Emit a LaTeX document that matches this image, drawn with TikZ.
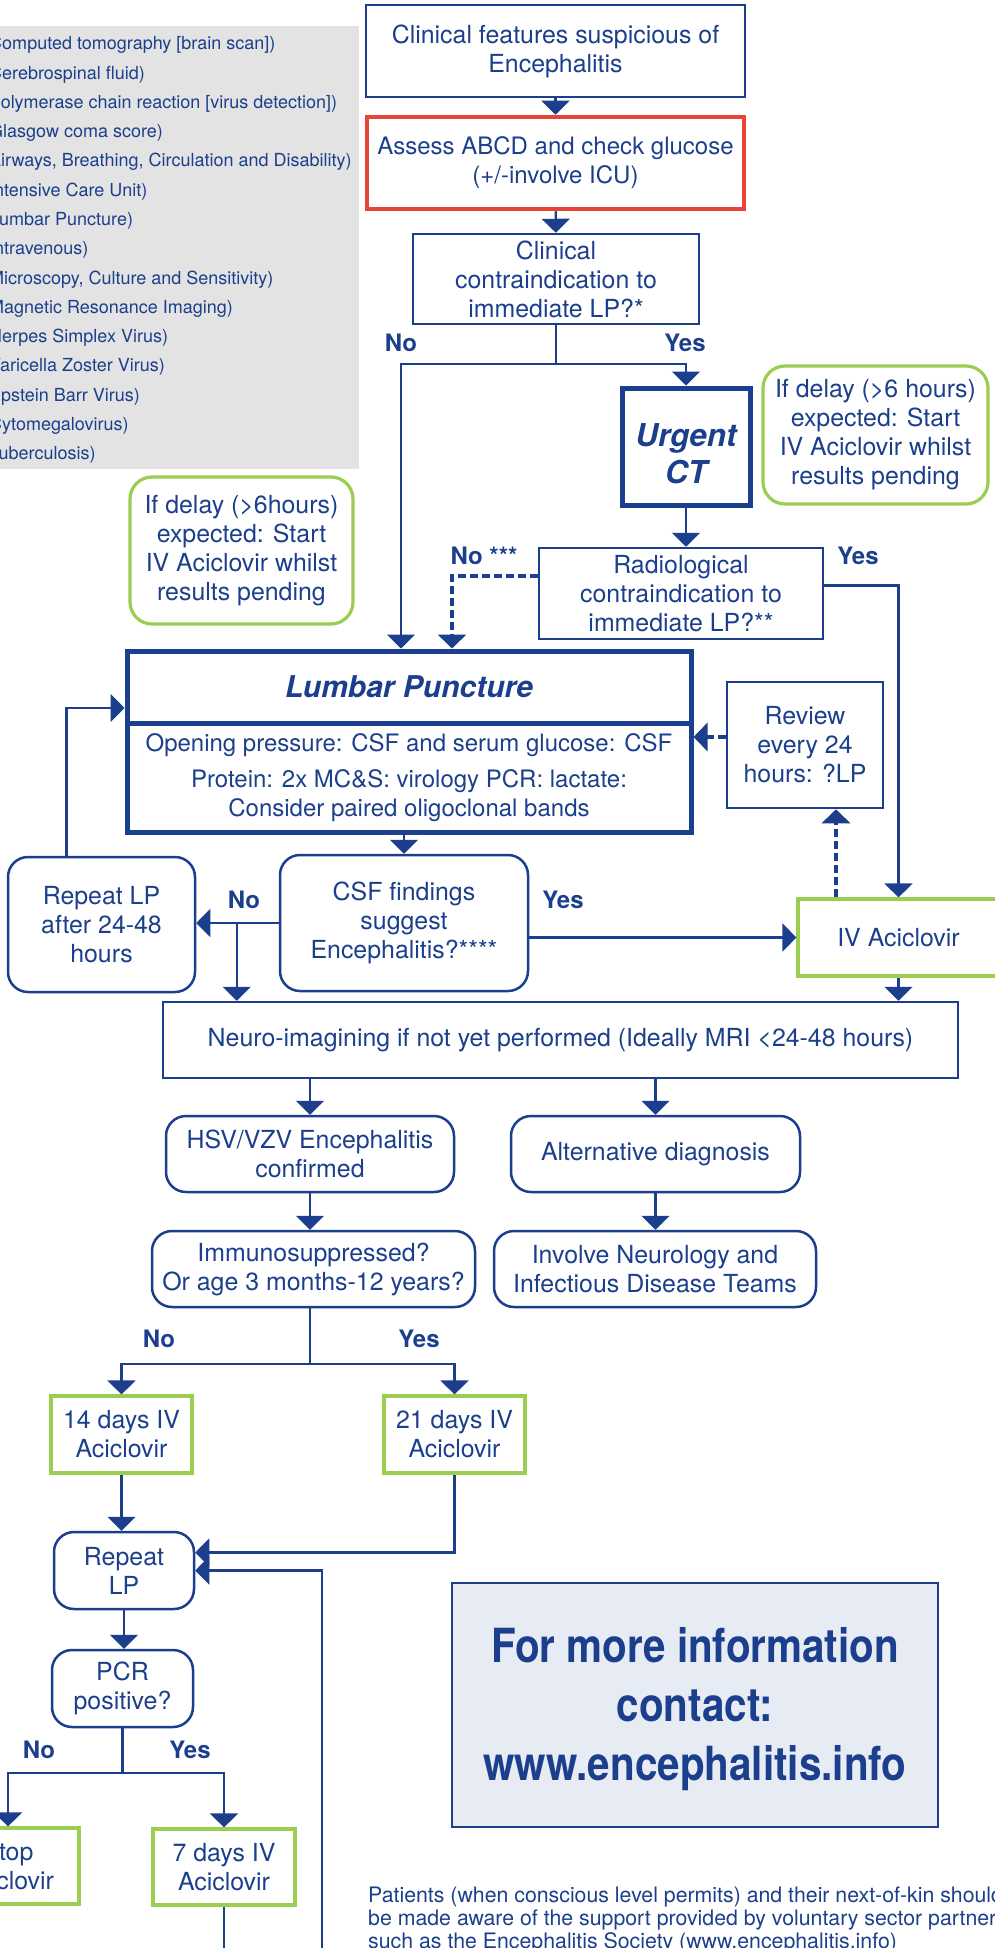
\documentclass[tikz,border=0pt]{standalone}
\usepackage{fontspec}
\setmainfont{TeX Gyre Heros}
\newfontfamily\condfont[FakeStretch=0.86]{TeX Gyre Heros}
\usepackage{xcolor}
\usepackage{tikz}
\usetikzlibrary{arrows.meta,calc}

\definecolor{navy}{RGB}{27,63,140}
\definecolor{ivgreen}{RGB}{155,205,80}
\definecolor{alertred}{RGB}{232,68,56}
\definecolor{legendgray}{RGB}{227,227,227}
\definecolor{infofill}{RGB}{230,235,244}

\begin{document}
\begin{tikzpicture}[x=1pt,y=-1pt,
    box/.style={draw=navy,line width=2.5pt,text=navy,align=center,inner sep=0pt,
        font=\fontsize{24.9}{29}\selectfont},
    rbox/.style={box,rounded corners=20pt},
    gbox/.style={box,draw=ivgreen,line width=3.2pt},
    note/.style={gbox,rounded corners=22pt},
    keybox/.style={box,line width=5pt},
    conn/.style={draw=navy,line width=2.2pt},
    arr/.style={conn,-{Triangle[width=28pt,length=14pt]}},
    darr/.style={arr,line width=4pt,dash pattern=on 8pt off 4pt},
    lbl/.style={text=navy,font=\bfseries\fontsize{24}{29}\selectfont},
    legend/.style={anchor=west,text=navy,inner sep=0pt,font=\fontsize{18}{22}\selectfont}]
        \useasboundingbox (0,0) rectangle (995,1948);
        % abbreviations
        \fill [legendgray] (-10,26) rectangle (359,469);
        \foreach \txt [count=\i from 0] in {{Computed tomography [brain scan])},{Cerebrospinal fluid)},
            {Polymerase chain reaction [virus detection])},{Glasgow coma score)},
            {Airways, Breathing, Circulation and Disability)},{Intensive Care Unit)},
            {Lumbar Puncture)},{Intravenous)},{Microscopy, Culture and Sensitivity)},
            {Magnetic Resonance Imaging)},{Herpes Simplex Virus)},{Varicella Zoster Virus)},
            {Epstein Barr Virus)},{Cytomegalovirus)},{Tuberculosis)}}{
            \node [legend] (abbr\i) at (-11, {45+29.3*\i}) {\txt};
        }
        % top of the pathway
        \node [box,minimum width=379,minimum height=92] (clin) at (555.5,51) {Clinical features suspicious of\\Encephalitis};
        \node [box,draw=alertred,line width=4.5pt,minimum width=377,minimum height=92,font=\fontsize{24}{29}\selectfont] (assess) at (555.5,163) {Assess ABCD and check glucose\\(+/-involve ICU)};
        \node [box,minimum width=286,minimum height=90] (contra) at (556,279) {Clinical\\contraindication to\\immediate LP?*};
        \node [keybox,minimum width=128,minimum height=117,font=\bfseries\itshape\fontsize{31.5}{37}\selectfont] (ct) at (686,446.5) {\rule{0pt}{38pt}Urgent\\CT};
        \node [note,minimum width=225,minimum height=138] (delayb) at (875.5,435) {If delay (>6 hours)\\expected: Start\\IV Aciclovir whilst\\results pending};
        \node [note,minimum width=223,minimum height=147] (delaya) at (241.5,550.5) {If delay (>6hours)\\expected: Start\\IV Aciclovir whilst\\results pending};
        \node [box,minimum width=284,minimum height=91] (radio) at (681,593.5) {Radiological\\contraindication to\\immediate LP?**};
        % lumbar puncture
        \node [keybox,minimum width=564,minimum height=72,font=\bfseries\itshape\fontsize{30}{37}\selectfont] (lphead) at (409,687) {Lumbar Puncture};
        \node [keybox,minimum width=564,minimum height=109,font=\fontsize{24}{29}\selectfont] (lpbody) at (409,777.5) {Opening pressure: CSF and serum glucose: CSF\\[7pt]Protein: 2x MC\&S: virology PCR: lactate:\\Consider paired oligoclonal bands};
        \node [box,minimum width=156,minimum height=126] (review) at (805,745) {Review\\every 24\\hours: ?LP};
        \node [rbox,minimum width=248,minimum height=136] (csf) at (404,923) {CSF findings\\suggest\\Encephalitis?****};
        \node [rbox,minimum width=187,minimum height=135] (rep) at (101.5,924.5) {Repeat LP\\after 24-48\\hours};
        \node [gbox,minimum width=201,minimum height=77] (iv) at (898.5,937.5) {IV Aciclovir};
        \node [box,minimum width=795,minimum height=76] (neuro) at (560.5,1040) {Neuro-imagining if not yet performed (Ideally MRI <24-48 hours)};
        % outcomes
        \node [rbox,minimum width=288,minimum height=76] (hsv) at (310,1154) {HSV/VZV Encephalitis\\confirmed};
        \node [rbox,minimum width=289,minimum height=76] (alt) at (655.5,1154) {Alternative diagnosis};
        \node [rbox,minimum width=323,minimum height=76] (imm) at (313.5,1269) {Immunosuppressed?\\Or age 3 months-12 years?};
        \node [rbox,minimum width=322,minimum height=76] (inv) at (655,1269) {Involve Neurology and\\Infectious Disease Teams};
        \node [gbox,minimum width=141,minimum height=77] (d14) at (121.5,1434.5) {14 days IV\\Aciclovir};
        \node [gbox,minimum width=141,minimum height=77] (d21) at (454.5,1434.5) {21 days IV\\Aciclovir};
        \node [rbox,minimum width=140,minimum height=77] (rlp) at (124,1570.5) {Repeat\\LP};
        \node [rbox,minimum width=141,minimum height=77] (pcr) at (122.5,1688.5) {PCR\\positive?};
        \node [gbox,minimum width=142,minimum height=76] (stop) at (8,1866) {Stop\\Aciclovir};
        \node [gbox,minimum width=142,minimum height=76] (d7) at (224,1867) {7 days IV\\Aciclovir};
        \node [box,fill=infofill,minimum width=486,minimum height=244,font=\condfont\bfseries\fontsize{47}{59}\selectfont] (info) at (695,1705) {\rule{0pt}{44pt}For more information\\contact:\\www.encephalitis.info};
        \node [anchor=west,align=left,text=navy,inner sep=0pt,font=\fontsize{21.3}{23.5}\selectfont] (patients) at (368,1920) {Patients (when conscious level permits) and their next-of-kin should\\be made aware of the support provided by voluntary sector partners\\such as the Encephalitis Society (www.encephalitis.info)};
        % branch labels
        \node [lbl] (no1) at (401,343) {No};
        \node [lbl] (yes1) at (685,343) {Yes};
        \node [lbl] (no2) at (484,556) {No ***};
        \node [lbl] (yes2) at (858,556) {Yes};
        \node [lbl] (no3) at (244,900) {No};
        \node [lbl] (yes3) at (563,900) {Yes};
        \node [lbl] (no4) at (159,1339) {No};
        \node [lbl] (yes4) at (419,1339) {Yes};
        \node [lbl] (no5) at (39,1750) {No};
        \node [lbl] (yes5) at (190,1750) {Yes};
        % connectors
        \draw [arr] (clin) -- (assess);
        \draw [arr] (assess) -- (contra);
        \draw [conn] (contra.south) -- ++(0,39) coordinate (j1);
        \draw [arr] (j1) -| (ct.north);
        \draw [arr] (j1) -| ([xshift=-8pt]lphead.north);
        \draw [arr] (ct) -- (ct.south |- radio.north);
        \draw [darr] ([yshift=18pt]radio.west) -| ([xshift=43pt]lphead.north);
        \draw [arr] ([yshift=8pt]radio.east) -| (iv.north);
        \draw [darr] ([yshift=8pt]review.west) -- ([yshift=8pt]review.west -| lpbody.east);
        \draw [darr] ([xshift=31pt]review.south |- iv.north) -- ([xshift=31pt]review.south);
        \draw [arr] ([xshift=-35pt]rep.north) |- ([yshift=-21pt]lphead.west);
        \draw [arr] (csf.north |- lpbody.south) -- (csf.north);
        \draw [arr] (csf.west) -- (csf.west -| rep.east);
        \draw [arr] ([xshift=-42pt]csf.west) -- ([xshift=-42pt]csf.west |- neuro.north);
        \draw [arr] (iv.west -| csf.east) -- (iv.west);
        \draw [arr] (iv.south) -- (iv.south |- neuro.north);
        \draw [arr] (hsv.north |- neuro.south) -- (hsv.north);
        \draw [arr] (alt.north |- neuro.south) -- (alt.north);
        \draw [arr] (hsv.south) -- (hsv.south |- imm.north);
        \draw [arr] (alt.south) -- (alt.south |- inv.north);
        \draw [conn] (hsv.south |- imm.south) -- ++(0,56) coordinate (j2);
        \draw [arr] (j2) -| (d14.north);
        \draw [arr] (j2) -| (d21.north);
        \draw [arr] (d14.south) -- (d14.south |- rlp.north);
        \draw [arr] (d21.south) |- ([yshift=18pt]rlp.east);
        \coordinate (back) at (322,1960);
        \draw [arr] (back) |- (rlp.east);
        \draw [arr] (rlp.south) -- (rlp.south |- pcr.north);
        \draw [conn] (pcr.south) -- ++(0,45) coordinate (j3);
        \draw [arr] (j3) -| (stop.north);
        \draw [arr] (j3) -| (d7.north);
        \draw [conn] (d7.south) -- (d7.south |- back);
\end{tikzpicture}
\end{document}
